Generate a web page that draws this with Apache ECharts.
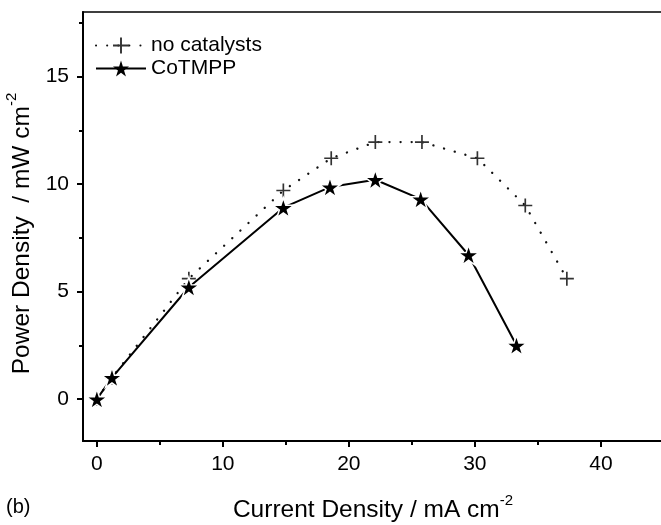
<!DOCTYPE html>
<html>
<head>
<meta charset="utf-8">
<script src="https://cdn.jsdelivr.net/npm/echarts@6/dist/echarts.min.js"></script>
<style>
html,body{margin:0;padding:0;background:#fff;}
#chart{width:661px;height:525px;}
</style>
</head>
<body>
<div id="chart"></div>
<script>
// ---- data ----
var noCatX = [0, 1.2, 7.3, 14.8, 18.6, 22.1, 25.8, 30.2, 34.0, 37.3];
var noCatY = [0, 1.0, 5.6, 9.7, 11.2, 11.95, 11.95, 11.2, 9.0, 5.6];
var coX = [0, 1.2, 7.3, 14.8, 18.5, 22.1, 25.7, 29.5, 33.3];
var coY = [0, 1.0, 5.2, 8.9, 9.86, 10.2, 9.3, 6.7, 2.5];
var xMajor = [0, 10, 20, 30, 40];
var xMinor = [5, 15, 25, 35];
var yMajor = [0, 5, 10, 15];
var yMinor = [2.5, 7.5, 12.5, 17.5];
var seriesNames = ['no catalysts', 'CoTMPP'];

function pairs(xs, ys) { return xs.map(function (x, i) { return [x, ys[i]]; }); }

var FONT = 'Liberation Sans, Arial, Helvetica, sans-serif';
var X_MIN = -1.1, X_MAX = 44.93;
var Y_MIN = -1.95, Y_MAX = 18;

var plusPath = 'path://M4.4,0h1.2v10h-1.2z M0,4.4h10v1.2h-10z';
var starPath = 'path://M50,0 L61.23,34.55 L97.55,34.55 L68.17,55.9 L79.39,90.45 L50,69.1 L20.61,90.45 L31.83,55.9 L2.45,34.55 L38.77,34.55 Z';

var rich = {
  n: { fontSize: 24.5, fontFamily: FONT, color: '#000', lineHeight: 30, verticalAlign: 'bottom' },
  s: { fontSize: 15, fontFamily: FONT, color: '#000', lineHeight: 30, verticalAlign: 'top' }
};

function mainX(extra) {
  return Object.assign({
    type: 'value', min: X_MIN, max: X_MAX, gridIndex: 0, position: 'bottom',
    splitLine: { show: false }
  }, extra);
}
function mainY(extra) {
  return Object.assign({
    type: 'value', min: Y_MIN, max: Y_MAX, gridIndex: 0, position: 'left',
    splitLine: { show: false }
  }, extra);
}

var option = {
  animation: false,
  backgroundColor: '#fff',
  textStyle: { fontFamily: FONT },
  title: {
    text: '(b)', left: 1, top: 492,
    textStyle: { fontSize: 20, fontWeight: 'normal', color: '#000', fontFamily: FONT }
  },
  grid: {
    left: 83, right: -2, top: 12, bottom: 84,
    containLabel: false, outerBoundsMode: 'none',
    show: true, borderColor: '#000', borderWidth: 1.5, backgroundColor: 'transparent'
  },
  legend: {
    orient: 'vertical', left: 90, top: 30,
    itemWidth: 50, itemHeight: 20, itemGap: 2,
    data: seriesNames,
    itemStyle: { borderWidth: 0 },
    textStyle: { fontSize: 21, color: '#000', fontFamily: FONT }
  },
  xAxis: [
    mainX({
      name: '{n|Current Density / mA cm}{s|-2}',
      nameLocation: 'middle', nameGap: 52,
      nameTextStyle: { rich: rich },
      axisLine: { show: true, onZero: false, lineStyle: { color: '#000', width: 2 } },
      axisTick: { show: true, customValues: xMajor, length: 6, lineStyle: { color: '#000', width: 2 } },
      axisLabel: { customValues: xMajor, margin: 13, fontSize: 21, color: '#000', fontFamily: FONT }
    }),
    mainX({
      axisLine: { show: false, onZero: false },
      axisTick: { show: true, customValues: xMinor, length: 4, lineStyle: { color: '#000', width: 2 } },
      axisLabel: { show: false }
    })
  ],
  yAxis: [
    mainY({
      name: '{n|Power Density  / mW cm}{s|-2}',
      nameLocation: 'middle', nameGap: 45, nameRotate: 90,
      nameTextStyle: { rich: rich, padding: [0, 14, 0, 0] },
      axisLine: { show: true, onZero: false, lineStyle: { color: '#000', width: 2 } },
      axisTick: { show: true, customValues: yMajor, length: 6, lineStyle: { color: '#000', width: 2 } },
      axisLabel: { customValues: yMajor, margin: 14, fontSize: 21, color: '#000', fontFamily: FONT }
    }),
    mainY({
      axisLine: { show: false, onZero: false },
      axisTick: { show: true, customValues: yMinor, length: 4, lineStyle: { color: '#000', width: 2 } },
      axisLabel: { show: false }
    })
  ],
  series: [
    {
      name: seriesNames[0], type: 'line', xAxisIndex: 0, yAxisIndex: 0,
      data: pairs(noCatX, noCatY),
      symbol: plusPath, symbolSize: 14, symbolKeepAspect: true,
      itemStyle: { color: '#333' },
      lineStyle: { color: '#111', width: 2.3, type: [0.1, 11], cap: 'round' },
      z: 2
    },
    {
      name: seriesNames[1], type: 'line', xAxisIndex: 0, yAxisIndex: 0,
      data: pairs(coX, coY),
      symbol: starPath, symbolSize: [21, 20],
      itemStyle: { color: '#000', borderColor: '#fff', borderWidth: 1.5 },
      lineStyle: { color: '#000', width: 2 },
      z: 3
    }
  ]
};

var chart = echarts.init(document.getElementById('chart'), null, { renderer: 'canvas' });
chart.setOption(option);
</script>
</body>
</html>
